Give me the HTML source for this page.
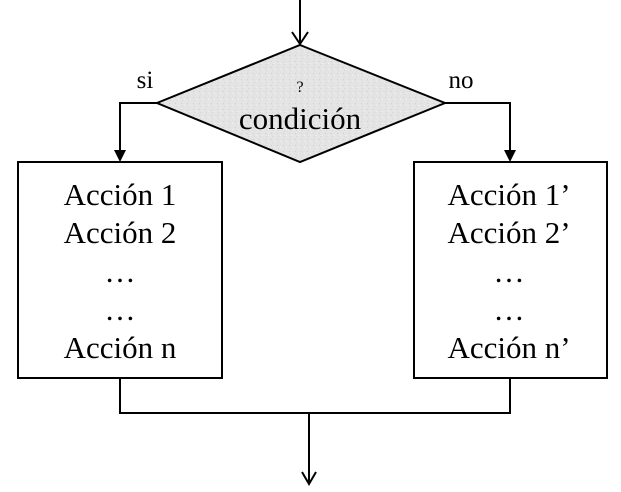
<!DOCTYPE html>
<html><head><meta charset="utf-8"><style>
html,body{margin:0;padding:0;background:#fff;width:621px;height:492px;overflow:hidden}
svg text{font-family:"Liberation Serif",serif;fill:#000}
</style></head><body>
<svg width="621" height="492" viewBox="0 0 621 492" xmlns="http://www.w3.org/2000/svg">
<defs>
<pattern id="n" width="6" height="6" patternUnits="userSpaceOnUse">
<rect width="6" height="6" fill="#e4e4e4"/>
<rect x="1" y="1" width="1" height="1" fill="#cfcfcf"/>
<rect x="4" y="3" width="1" height="1" fill="#f3f3f3"/>
<rect x="2" y="4" width="1" height="1" fill="#d6d6d6"/>
</pattern>
</defs>
<g stroke="#000" stroke-width="2" fill="none">
<line x1="300" y1="0" x2="300" y2="44"/>
<polyline points="292,32 300,44 308,32"/>
<polygon points="300,45 445,103 300,162 157,103" fill="url(#n)"/>
<polyline points="157,103 120,103 120,152"/>
<polyline points="445,103 510,103 510,152"/>
<rect x="18" y="162" width="204" height="216" fill="#fff"/>
<rect x="414" y="162" width="193" height="216" fill="#fff"/>
<polyline points="120,378 120,413 510,413 510,378"/>
<line x1="309" y1="413" x2="309" y2="484"/>
<polyline points="302,472 309,484 316,472"/>
</g>
<polygon points="114,150 126,150 120,162" fill="#000"/>
<polygon points="504,150 516,150 510,162" fill="#000"/>
<text x="145" y="88" font-size="25" text-anchor="middle">si</text>
<text x="461" y="88" font-size="25" text-anchor="middle">no</text>
<text x="300" y="92" font-size="16" text-anchor="middle">?</text>
<text x="300" y="129" font-size="31" text-anchor="middle">condición</text>
<g font-size="31" text-anchor="middle">
<text x="120" y="205">Acción 1</text>
<text x="120" y="243">Acción 2</text>
<text x="120" y="282">…</text>
<text x="120" y="320">…</text>
<text x="120" y="358">Acción n</text>
<text x="509" y="205">Acción 1’</text>
<text x="509" y="243">Acción 2’</text>
<text x="509" y="282">…</text>
<text x="509" y="320">…</text>
<text x="509" y="358">Acción n’</text>
</g>
</svg>
</body></html>
